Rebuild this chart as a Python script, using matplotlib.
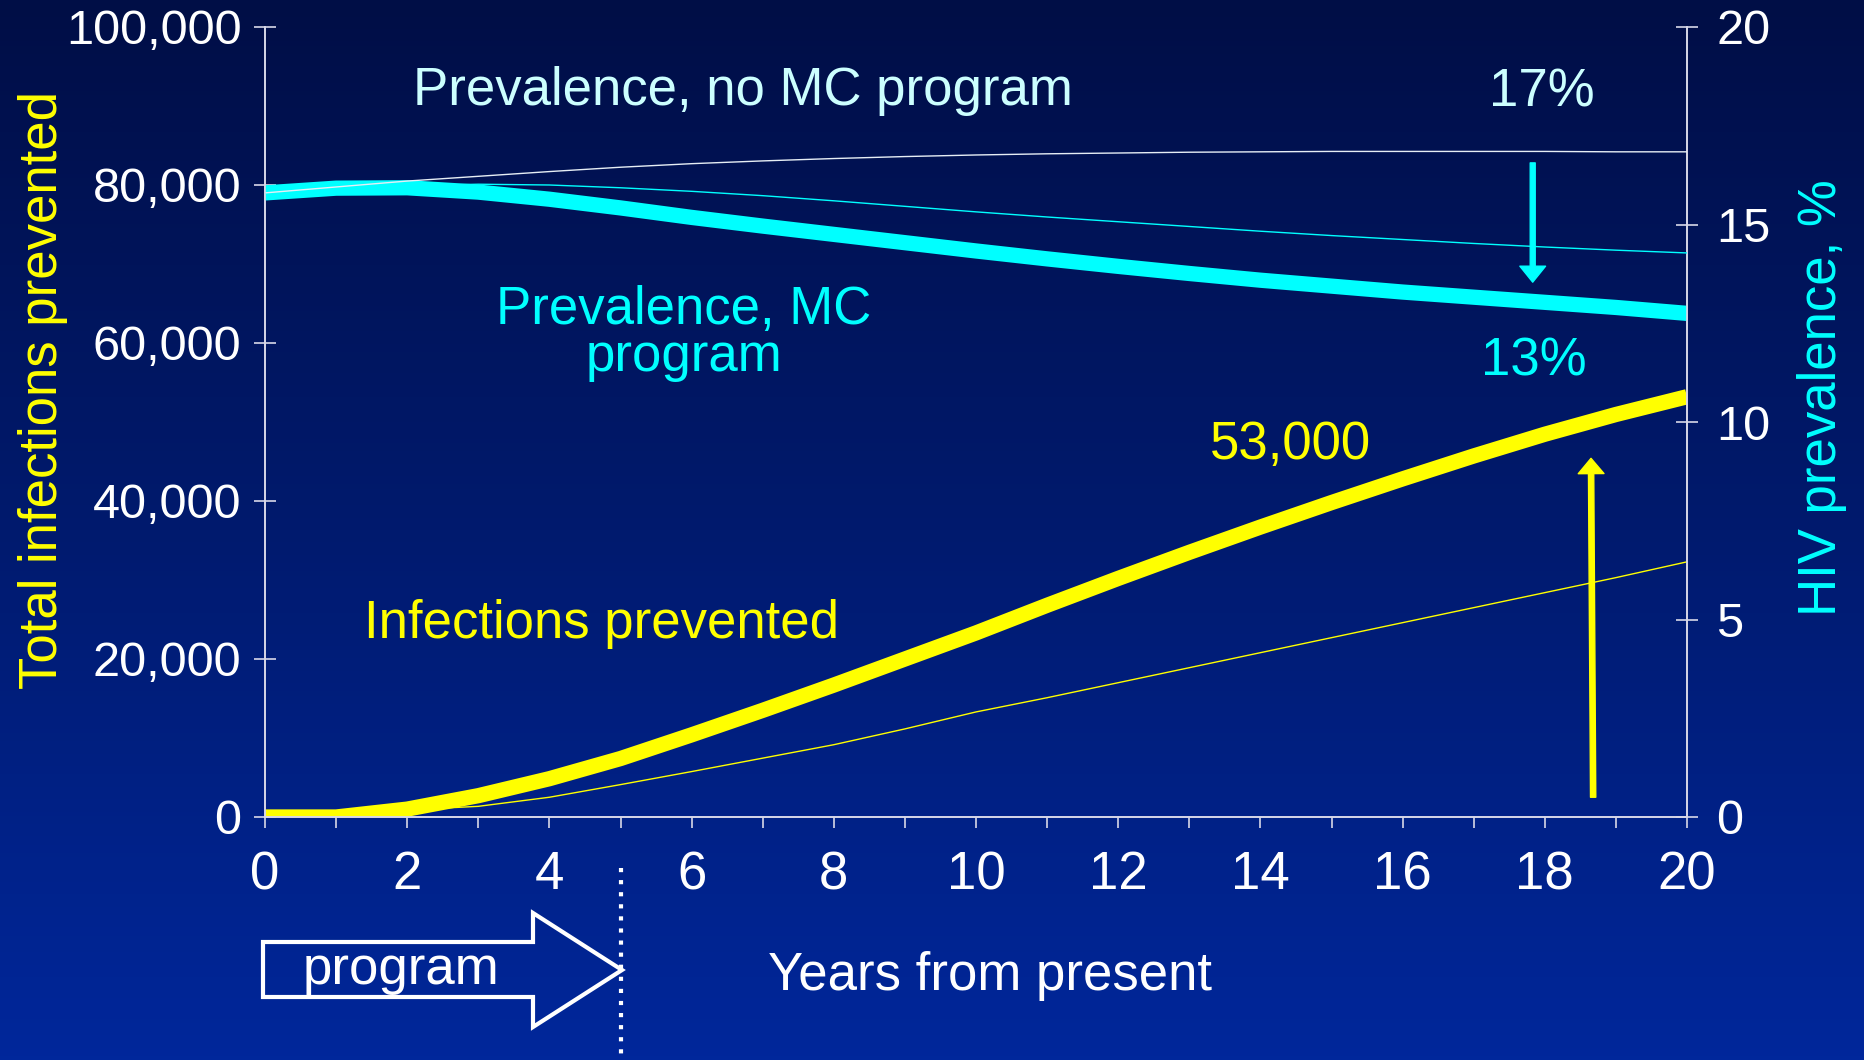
import numpy as np
import matplotlib
matplotlib.use('Agg')
import matplotlib.pyplot as plt
from matplotlib.colors import LinearSegmentedColormap
from matplotlib.patches import Polygon

plt.rcParams['font.family'] = ['Liberation Sans', 'DejaVu Sans']

# Datos
anios = list(range(21))
prevalencia_sin_mc = [15.8, 15.95, 16.1, 16.22, 16.34, 16.45, 16.54, 16.61, 16.67, 16.72, 16.76,
                      16.79, 16.81, 16.83, 16.84, 16.85, 16.85, 16.85, 16.85, 16.84, 16.84]
prevalencia_mc_alt = [15.8, 15.92, 15.98, 16.02, 16.0, 15.93, 15.84, 15.73, 15.6, 15.46, 15.32,
                      15.19, 15.07, 14.95, 14.83, 14.72, 14.62, 14.52, 14.43, 14.35, 14.28]
prevalencia_mc = [15.8, 15.92, 15.93, 15.82, 15.64, 15.42, 15.18, 14.96, 14.75, 14.54, 14.33,
                  14.13, 13.94, 13.76, 13.59, 13.44, 13.29, 13.16, 13.03, 12.9, 12.75]
infecciones_prevenidas = [0, 0, 1000, 2700, 4850, 7400, 10400, 13500, 16700, 20000, 23300,
                          26800, 30200, 33500, 36700, 39800, 42800, 45700, 48450, 50950, 53200]
infecciones_prevenidas_alt = [0, 0, 900, 1350, 2500, 4100, 5750, 7450, 9150, 11150, 13300,
                              15100, 17000, 18900, 20800, 22700, 24600, 26500, 28400, 30300, 32300]

ticks_izq = [0, 20000, 40000, 60000, 80000, 100000]
etiquetas_izq = ['0', '20,000', '40,000', '60,000', '80,000', '100,000']
ticks_der = [0, 5, 10, 15, 20]
etiquetas_x = [str(a) if a % 2 == 0 else '' for a in anios]

W, H = 1864, 1060
fig = plt.figure(figsize=(W / 100, H / 100), dpi=100)

# Fondo degradado
fondo = fig.add_axes([0, 0, 1, 1], zorder=-5)
cmap = LinearSegmentedColormap.from_list('fondo', ['#000E46', '#001A6E', '#00279B'])
fondo.imshow(np.linspace(0, 1, 256).reshape(-1, 1), aspect='auto', cmap=cmap, extent=[0, 1, 0, 1])
fondo.axis('off')

color_eje = '#D8D8E8'
ax = fig.add_axes([265 / W, 1 - 817 / H, (1687 - 265) / W, (817 - 27) / H])
ax.patch.set_alpha(0)
ax2 = ax.twinx()

# Curvas de infecciones (eje izquierdo)
ax.plot(anios, infecciones_prevenidas_alt, color='#FFFF00', lw=1.0)
ax.plot(anios, infecciones_prevenidas, color='#FFFF00', lw=11, solid_capstyle='butt', solid_joinstyle='round')

# Curvas de prevalencia (eje derecho)
ax2.plot(anios, prevalencia_mc, color='#00FFFF', lw=11, solid_capstyle='butt', solid_joinstyle='round', zorder=2)
ax2.plot(anios, prevalencia_mc_alt, color='#00FFFF', lw=1.0, zorder=3)
ax2.plot(anios, prevalencia_sin_mc, color='#E6EEF5', lw=1.0, zorder=4)

ax.set_xlim(0, 20)
ax.set_ylim(0, 100000)
ax2.set_ylim(0, 20)

ax.set_xticks(anios)
ax.set_xticklabels(etiquetas_x)
ax.set_yticks(ticks_izq)
ax.set_yticklabels(etiquetas_izq)
ax2.set_yticks(ticks_der)

for a in (ax, ax2):
    a.spines['top'].set_visible(False)
    for s in ('left', 'right', 'bottom'):
        a.spines[s].set_color(color_eje)
        a.spines[s].set_linewidth(1.2)
ax.tick_params(axis='x', direction='out', length=8, width=1.2, color=color_eje,
               labelsize=38, labelcolor='white', pad=16)
ax.tick_params(axis='y', direction='inout', length=16, width=1.2, color=color_eje,
               labelsize=35, labelcolor='white', pad=9)
ax2.tick_params(axis='y', direction='inout', length=16, width=1.2, color=color_eje,
                labelsize=35, labelcolor='white', pad=13)

# Titulos de ejes
fig.text(43 / W, 1 - 390 / H, 'Total infections prevented', rotation=90, ha='center', va='center',
         fontsize=38, color='#FFFF00')
fig.text(1822 / W, 1 - 398 / H, 'HIV prevalence, %', rotation=90, ha='center', va='center',
         fontsize=38, color='#00FFFF')
fig.text(990 / W, 1 - 990 / H, 'Years from present', ha='center', va='baseline',
         fontsize=38, color='white')

# Anotaciones
ax.text(6.72, 90100, 'Prevalence, no MC program', ha='center', va='baseline', fontsize=38, color='#CCFFFF')
ax.text(17.96, 89900, '17%', ha='center', va='baseline', fontsize=38, color='#CCFFFF')
ax.text(5.89, 62400, 'Prevalence, MC', ha='center', va='baseline', fontsize=38, color='#00FFFF')
ax.text(5.89, 56500, 'program', ha='center', va='baseline', fontsize=38, color='#00FFFF')
ax.text(17.84, 55850, '13%', ha='center', va='baseline', fontsize=38, color='#00FFFF')
ax.text(14.42, 45300, '53,000', ha='center', va='baseline', fontsize=38, color='#FFFF00')
ax.text(4.73, 22600, 'Infections prevented', ha='center', va='baseline', fontsize=38, color='#FFFF00')

ax.annotate('', xy=(17.83, 67700), xytext=(17.83, 82800),
            arrowprops=dict(color='#00FFFF', width=3.6, headwidth=18.5, headlength=11.5, shrink=0))
ax.annotate('', xy=(18.65, 45400), xytext=(18.68, 2500),
            arrowprops=dict(color='#FFFF00', width=3.8, headwidth=18.5, headlength=11, shrink=0))

# Linea punteada al final del programa
ax.plot([5, 5], [-6500, -31000], color='white', lw=3, linestyle=(0, (1, 1.9)), clip_on=False)

# Flecha "program"
pts = [(263, 942), (533, 942), (533, 913), (622, 970), (533, 1027), (533, 997), (263, 997)]
flecha = Polygon([(x / W, 1 - y / H) for x, y in pts], closed=True, fill=False,
                 edgecolor='white', lw=3, joinstyle='miter', transform=fig.transFigure)
fig.add_artist(flecha)
fig.text(401 / W, 1 - 984 / H, 'program', ha='center', va='baseline', fontsize=38, color='white')

fig.savefig('out.png', dpi=100)
